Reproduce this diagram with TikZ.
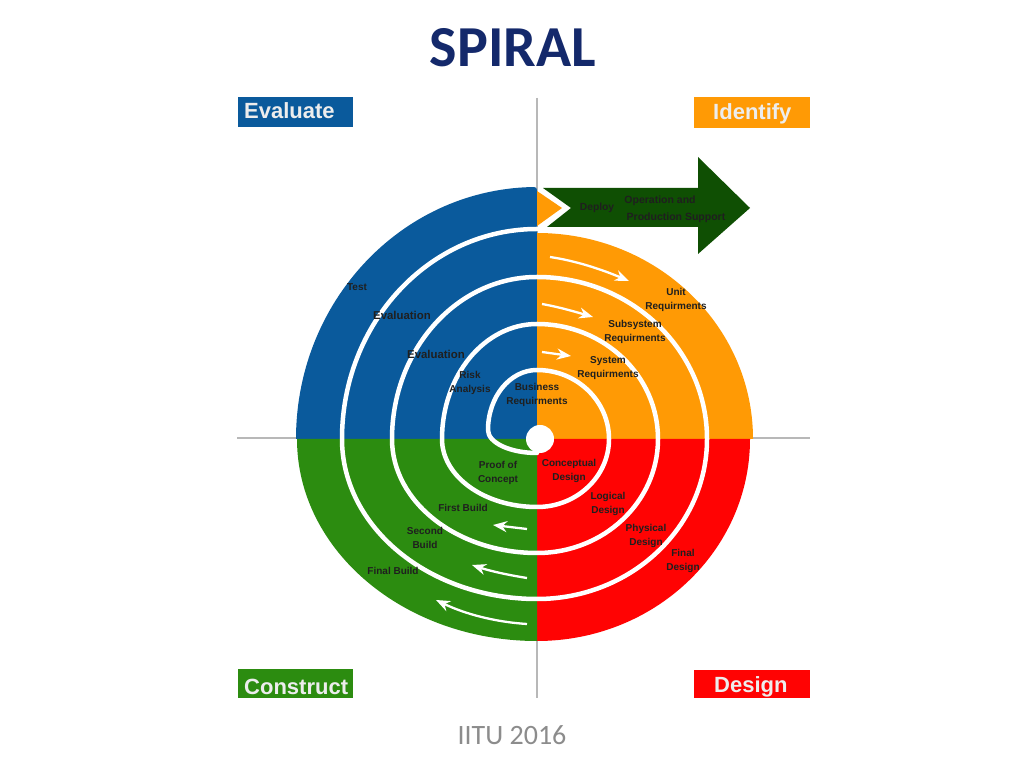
\documentclass[tikz,border=0pt]{standalone}
\usepackage{fontspec}
\setmainfont{Liberation Sans}
\newfontfamily\carlito{Carlito}
\usetikzlibrary{arrows.meta}
\definecolor{cblue}{HTML}{0A5A9C}
\definecolor{corange}{HTML}{FF9A05}
\definecolor{cred}{HTML}{FF0303}
\definecolor{cgreen}{HTML}{2C8C10}
\definecolor{cdark}{HTML}{0F4F03}
\definecolor{ctitle}{HTML}{14296B}
\definecolor{cgrey}{HTML}{8C8C8C}
\tikzset{
  axisline/.style={draw=black!28,line width=1.2pt},
  quad/.style={line width=0pt},
  spiralline/.style={draw=white,line width=4.5pt,line cap=round},
  flowarrow/.style={draw=white,line width=2.3pt,-{Stealth[length=14pt,width=11pt]}},
  head/.style={font=\fontsize{22}{24}\selectfont\bfseries,text=white!93!black,anchor=west,inner sep=0pt},
  lab/.style={font=\fontsize{10}{13.5}\selectfont\bfseries,text=black!88,align=center,inner sep=0pt},
  tag/.style={line width=0pt},
}
\begin{document}
\begin{tikzpicture}[x=1pt,y=1pt]
\useasboundingbox (0,0) rectangle (1024,768);
\fill[white] (0,0) rectangle (1024,768);
\coordinate (vtop) at (537,670);
\coordinate (vbot) at (537,70);
\coordinate (hleft) at (237,330);
\coordinate (hright) at (810,330);
\draw[axisline] (vtop) -- (vbot);
\draw[axisline] (hleft) -- (hright);
% quadrants
\fill[cblue,quad] (537,329) -- (296,329) arc[start angle=180,end angle=91.5,x radius=241,y radius=252]
  .. controls (537,581) .. (537,574) -- cycle;
\fill[corange,quad] (537,329) -- (537,535) arc[start angle=90,end angle=0,x radius=216,y radius=206] -- cycle;
\fill[cred,quad] (537,329) -- (750,329) arc[start angle=0,end angle=-90,x radius=213,y radius=202] -- cycle;
\fill[cgreen,quad] (537,329) -- (537,127) arc[start angle=-90,end angle=-180,x radius=240,y radius=202] -- cycle;
% chevron and deploy arrow
\fill[corange] (537,577) -- (562,560) -- (537,542) -- cycle;
\fill[cdark] (543,580) -- (698,580) -- (698,611) -- (750,560) -- (698,514) -- (698,541) -- (547,541) -- (571,560) -- cycle;
% spiral
\draw[spiralline] (537,315)
  arc[start angle=-90,end angle=-180,x radius=49,y radius=23]
  arc[start angle=180,end angle=90,x radius=49,y radius=60]
  arc[start angle=90,end angle=0,x radius=72,y radius=69]
  arc[start angle=0,end angle=-90,x radius=72,y radius=68]
  arc[start angle=-90,end angle=-180,x radius=95,y radius=68]
  arc[start angle=180,end angle=90,x radius=95,y radius=115]
  arc[start angle=90,end angle=0,x radius=121,y radius=115]
  arc[start angle=0,end angle=-90,x radius=121,y radius=114]
  arc[start angle=-90,end angle=-180,x radius=145,y radius=114]
  arc[start angle=180,end angle=90,x radius=145,y radius=162]
  arc[start angle=90,end angle=0,x radius=170,y radius=162]
  arc[start angle=0,end angle=-90,x radius=170,y radius=160]
  arc[start angle=-90,end angle=-180,x radius=195,y radius=160]
  arc[start angle=180,end angle=90,x radius=195,y radius=210];
\fill[white] (540,329) circle[radius=14];
% flow arrows
\coordinate (a1s) at (550,511); \coordinate (a1e) at (629,487);
\coordinate (a2s) at (542,464); \coordinate (a2e) at (593,451);
\coordinate (a3s) at (542,416); \coordinate (a3e) at (571,412);
\coordinate (b1s) at (527,239); \coordinate (b1e) at (493,243);
\coordinate (b2s) at (527,190); \coordinate (b2e) at (472,203);
\coordinate (b3s) at (527,144); \coordinate (b3e) at (436,168);
\draw[flowarrow] (a1s) .. controls (577,507) and (603,498) .. (a1e);
\draw[flowarrow] (a2s) .. controls (559,461) and (576,456) .. (a2e);
\draw[flowarrow] (a3s) -- (a3e);
\draw[flowarrow] (b1s) -- (b1e);
\draw[flowarrow] (b2s) .. controls (508,193) and (490,197) .. (b2e);
\draw[flowarrow] (b3s) .. controls (495,146) and (465,154) .. (b3e);
% header tags
\fill[cblue,tag] (238,641) rectangle (353,671);
\fill[corange,tag] (694,640) rectangle (810,671);
\fill[cgreen,tag] (238,70) rectangle (353,99);
\fill[cred,tag] (694,70) rectangle (810,98);
\node[head] (evaluate) at (244,657) {Evaluate};
\node[head] (identify) at (713,654.5) {Identify};
\node[head] (construct) at (244,81.5) {Construct};
\node[head] (design) at (714,81.5) {Design};
% titles
\node[font=\carlito\fontsize{58}{60}\selectfont\bfseries,text=ctitle,inner sep=0pt] (title) at (513,720) {SPIRAL};
\node[font=\carlito\fontsize{28}{30}\selectfont,text=cgrey,inner sep=0pt] (foot) at (512,33) {IITU 2016};
% labels
\node[lab] (test) at (357,481) {Test};
\node[lab,font=\fontsize{11.4}{13.5}\selectfont\bfseries] (eval1) at (402,453) {Evaluation};
\node[lab,font=\fontsize{11.4}{13.5}\selectfont\bfseries] (eval2) at (436,414) {Evaluation};
\node[lab] (risk) at (470,385) {Risk\\Analysis};
\node[lab] (bus) at (537,373) {Business\\Requirments};
\node[lab] (sys) at (608,400) {System\\Requirments};
\node[lab] (subsys) at (635,436) {Subsystem\\Requirments};
\node[lab] (unit) at (676,468) {Unit\\Requirments};
\node[lab,font=\fontsize{10.3}{13.5}\selectfont\bfseries] (deploy) at (597,560) {Deploy};
\node[lab,font=\fontsize{10.5}{17}\selectfont\bfseries] (oper) at (676,559) {\hspace*{-32pt}Operation and\\Production Support};
\node[lab] (proof) at (498,295) {Proof of\\Concept};
\node[lab] (concept) at (569,297) {Conceptual\\Design};
\node[lab] (logic) at (608,264) {Logical\\Design};
\node[lab] (phys) at (646,232) {Physical\\Design};
\node[lab] (final) at (683,207) {Final\\Design};
\node[lab] (first) at (463,260) {First Build};
\node[lab] (second) at (425,230) {Second\\Build};
\node[lab] (finalb) at (393,197) {Final Build};
\end{tikzpicture}
\end{document}
